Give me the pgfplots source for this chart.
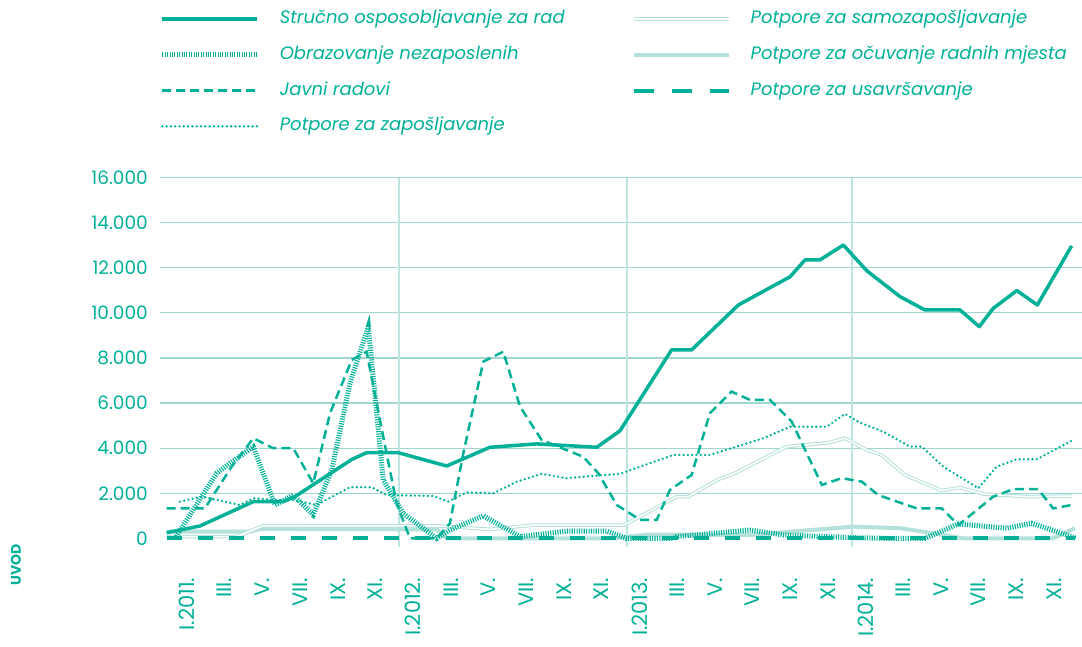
\documentclass[border=0pt]{standalone}
\usepackage{fontspec}
\setmainfont{Poppins}
\usepackage{pgfplots}
\pgfplotsset{compat=1.18}
\definecolor{tealA}{RGB}{0,177,152}
\definecolor{tealL}{RGB}{180,225,218}
\definecolor{gridc}{RGB}{160,215,207}
\definecolor{vgrid}{RGB}{190,230,224}

% x = month index (0 = I.2011), y = number of persons
\begin{document}
\begin{tikzpicture}
\useasboundingbox (0,0) rectangle (1082pt,647pt);
\begin{axis}[
    at={(160pt,99.6pt)}, anchor=south west,
    scale only axis, width=922pt, height=369.8pt,
    xmin=-1.43, xmax=47.48, ymin=-400, ymax=16000,
    axis line style={draw=none},
    major tick length=0pt,
    scaled y ticks=false,
    ytick={2000,4000,...,16000},
    extra y ticks={0},
    extra y tick style={grid=none},
    ymajorgrids,
    major grid style={gridc, line width=1.2pt},
    yticklabel={\pgfmathprintnumber[assume math mode=true,1000 sep={.}]{\tick}},
    yticklabel style={anchor=east, inner sep=0pt, xshift=-12pt, text=tealA, font=\fontsize{18.5}{18.5}\selectfont},
    xtick={0,2,...,46},
    xticklabels={I.2011.,III.,V.,VII.,IX.,XI.,I.2012.,III.,V.,VII.,IX.,XI.,I.2013.,III.,V.,VII.,IX.,XI.,I.2014.,III.,V.,VII.,IX.,XI.},
    xticklabel style={yshift=-30pt, rotate=90, anchor=east, inner sep=0pt, text=tealA, font=\fontsize{21}{21}\selectfont},
    extra x ticks={11.25,23.34,35.28},
    extra x tick labels={},
    extra x tick style={grid=major, major grid style={vgrid, line width=1.3pt}},
    legend columns=2,
    legend cell align=left,
    legend image code/.code={\draw[#1] (0pt,0pt) -- (95pt,0pt);},
    legend style={at={(-0.0002,1.452)}, anchor=north west, draw=none, fill=none,
        inner sep=0pt, outer sep=0pt, row sep=18.8pt, text=tealA,
        font=\itshape\fontsize{18}{18}\selectfont,
        nodes={inner sep=0pt, text height=13pt, text depth=4pt},
        /tikz/every odd column/.append style={column sep=20pt},
        /tikz/every even column/.append style={column sep=67pt}},
]
% legend, row by row
\addlegendimage{tealA, line width=3.5pt}
\addlegendimage{tealL, line width=1pt, double=white, double distance=1.6pt}
\addlegendimage{tealA, line width=5pt, dash pattern=on 1.1pt off 1.3pt}
\addlegendimage{tealL, line width=4pt}
\addlegendimage{tealA, line width=2.5pt, dash pattern=on 9pt off 5pt}
\addlegendimage{tealA, line width=4pt, dash pattern=on 20pt off 18pt}
\addlegendimage{tealA, line width=2.6pt, line cap=round, dash pattern=on 0pt off 4.3pt}
\legend{Stručno osposobljavanje za rad, Potpore za samozapošljavanje,
        Obrazovanje nezaposlenih, Potpore za očuvanje radnih mjesta,
        Javni radovi, Potpore za usavršavanje, Potpore za zapošljavanje}

% Potpore za očuvanje radnih mjesta
\addplot[forget plot, tealL, line width=4pt, line join=round] coordinates {
(-1.08,300) (3.34,300) (3.87,420) (13.25,400) (13.78,0) (22.80,0) (23.33,80)
(24.56,170) (29.87,150) (31.64,270) (35.35,520) (37.83,450) (39.06,300)
(40.48,100) (41.18,0) (45.95,0) (47.10,450)};
% Potpore za samozapošljavanje
\addplot[forget plot, tealL, line width=1pt, double=white, double distance=1.6pt, line join=round] coordinates {
(-1.08,80) (2.64,80) (4.05,560) (13.42,550) (16.07,400) (18.36,590) (23.13,590)
(23.43,700) (25.98,1850) (26.60,1850) (28.11,2590) (29.07,2890) (31.81,4070)
(34.02,4240) (34.91,4440) (36.06,3920) (36.85,3700) (38.09,2810) (40.04,2120)
(41.01,2250) (42.24,1970) (44.54,1850) (46.93,1880)};
% Potpore za zapošljavanje
\addplot[forget plot, tealA, line width=2.6pt, line cap=round, dash pattern=on 0pt off 4.3pt] coordinates {
(-0.37,1630) (0.78,1850) (2.81,1480) (3.52,1780) (4.76,1700) (5.64,1700)
(6.88,1480) (8.65,2270) (9.80,2270) (10.59,1920) (13.07,1880) (13.86,1630)
(14.84,2040) (16.25,2000) (17.49,2510) (18.82,2860) (20.14,2670) (22.09,2810)
(22.97,2860) (24.03,3180) (25.80,3700) (27.74,3700) (30.57,4440) (31.99,4950)
(33.94,4950) (34.91,5520) (35.70,5130) (36.94,4730) (38.36,4070) (38.98,4070)
(40.12,3180) (41.98,2220) (42.95,3180) (44.02,3510) (45.08,3510) (47.00,4360)};
% Javni radovi
\addplot[forget plot, tealA, line width=2.5pt, dash pattern=on 9pt off 5pt] coordinates {
(-1.08,1330) (0.95,1330) (2.37,3180) (3.52,4440) (4.58,4000) (5.64,4000)
(6.70,2440) (7.59,5550) (8.74,7910) (9.53,8280) (10.41,4510) (11.12,1560)
(11.83,0) (13.25,0) (13.95,670) (14.66,3770) (15.72,7840) (16.78,8280)
(17.67,5840) (18.82,4360) (21.02,3620) (21.82,2890) (22.80,1480) (23.50,1110)
(24.03,820) (24.92,820) (25.62,2150) (26.77,2810) (27.74,5550) (28.89,6510)
(29.87,6140) (30.93,6140) (32.08,5180) (32.79,3920) (33.68,2370) (34.73,2670)
(35.79,2520) (36.67,1920) (38.71,1330) (40.04,1330) (40.92,590) (42.77,1850)
(43.83,2180) (45.16,2180) (45.95,1330) (46.93,1480)};
% Obrazovanje nezaposlenih
\addplot[forget plot, tealA, line width=5pt, dash pattern=on 1.1pt off 1.3pt] coordinates {
(-0.64,0) (1.58,2890) (2.28,3330) (3.52,4060) (4.67,1480) (5.64,1920)
(6.70,1040) (7.68,3030) (8.65,6880) (9.62,9390) (10.41,2590) (11.47,1110)
(13.25,0) (13.95,370) (15.72,1000) (17.67,80) (20.14,320) (22.27,320)
(23.33,0) (25.80,0) (25.98,80) (29.87,370) (31.64,150) (35.35,30) (37.30,0)
(39.15,0) (40.92,640) (43.48,450) (44.81,670) (47.19,0)};
% Potpore za usavršavanje
\addplot[forget plot, tealA, line width=4pt, dash pattern=on 15pt off 16pt] coordinates {
(-1.08,0) (47.10,0)};
% Stručno osposobljavanje za rad
\addplot[forget plot, tealA, line width=3.5pt, line join=round] coordinates {
(-1.08,250) (0.69,550) (3.52,1630) (5.11,1630) (5.73,1850) (8.74,3500)
(9.53,3800) (11.21,3800) (13.78,3210) (16.07,4040) (18.55,4190) (21.74,4040)
(22.97,4770) (25.71,8360) (26.77,8360) (29.25,10350) (31.99,11600)
(32.79,12350) (33.58,12350) (34.82,13010) (36.06,11870) (37.83,10720)
(39.15,10130) (41.01,10130) (42.03,9390) (42.77,10200) (44.02,10990)
(45.11,10350) (46.93,12970)};
\end{axis}
\node[rotate=90, text=tealA, font=\bfseries\fontsize{14}{14}\selectfont] at (16pt,82pt) {UVOD};
\end{tikzpicture}
\end{document}
